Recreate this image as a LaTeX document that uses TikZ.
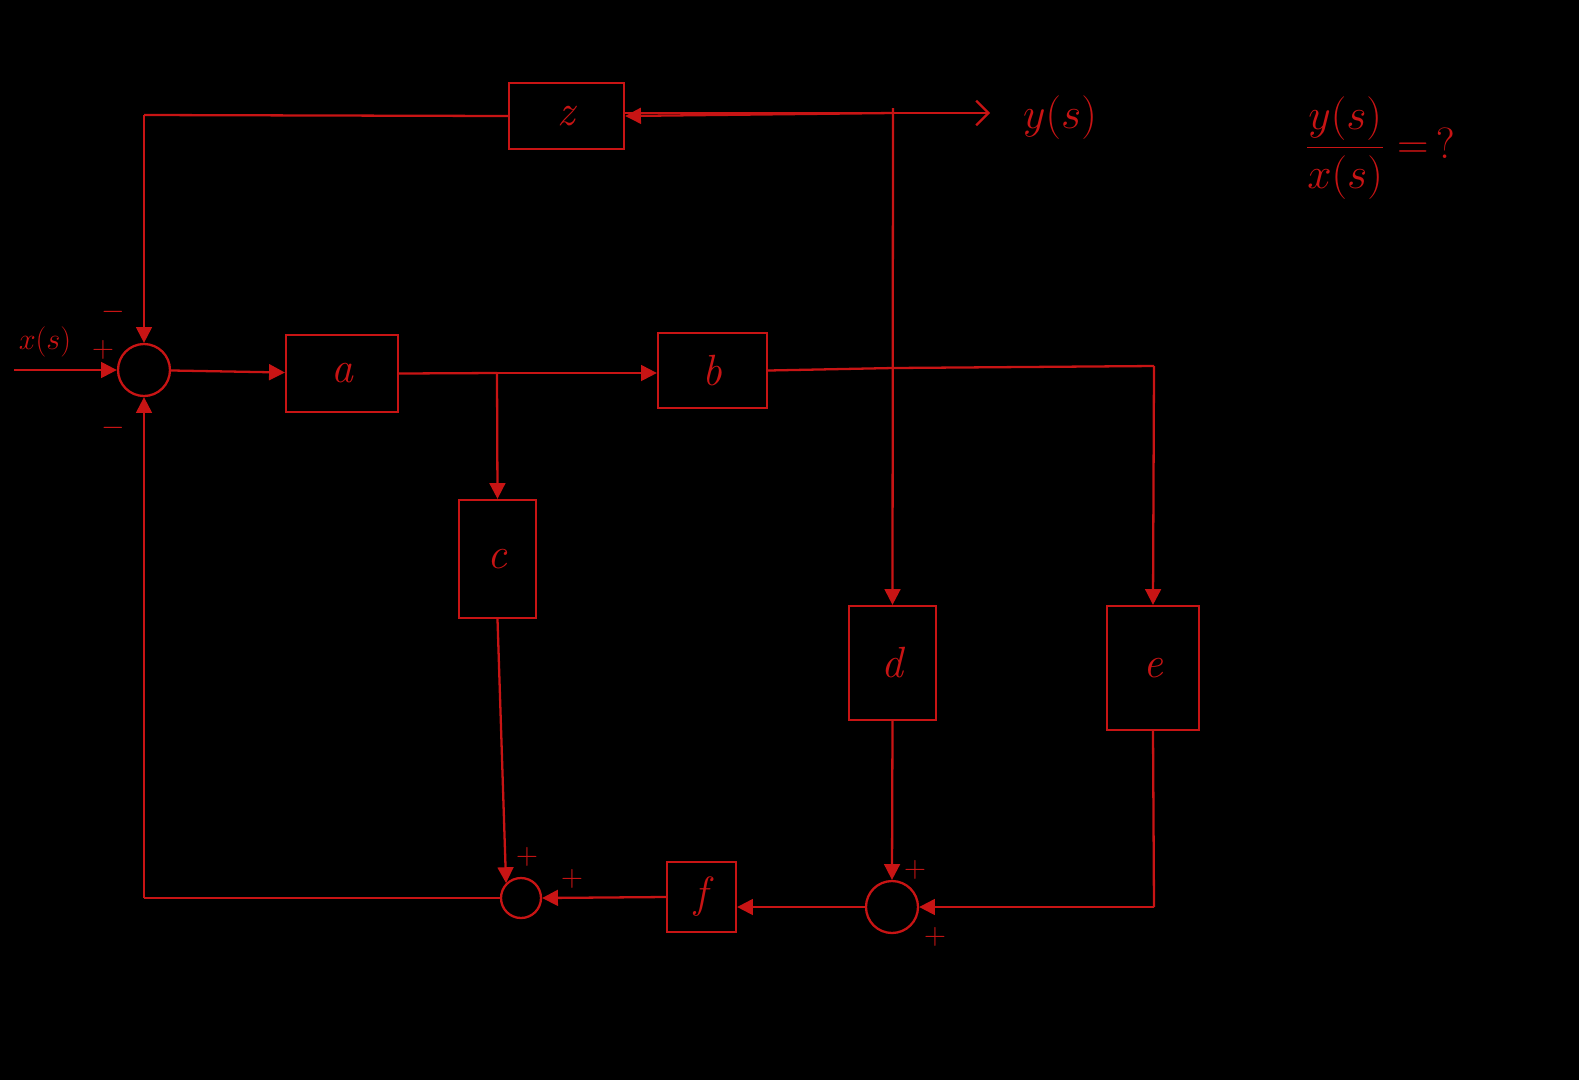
\documentclass[tikz,border=0pt]{standalone}
\usetikzlibrary{arrows.meta}
\definecolor{pen}{RGB}{200,20,20}
\begin{document}
\begin{tikzpicture}[x=0.02cm,y=-0.02cm,color=pen,line width=1.3pt,
  blk/.style={draw=pen,rectangle,inner sep=0pt,font=\Huge\itshape,text=pen},
  sumc/.style={draw=pen,circle,inner sep=0pt},
  lab/.style={text=pen,font=\LARGE},
  ar/.style={-{Triangle[length=9pt,width=9pt]}}]
\fill[black] (0,0) rectangle (1579,1080);
\useasboundingbox (0,0) rectangle (1579,1080);
\node[sumc,minimum size=1.04cm] (s1) at (144,370) {};
\node[blk,minimum width=2.24cm,minimum height=1.54cm] (a) at (342,373.5) {a};
\node[blk,minimum width=2.18cm,minimum height=1.5cm] (b) at (712.5,370.5) {b};
\node[blk,minimum width=2.3cm,minimum height=1.32cm] (z) at (566.5,116) {z};
\node[blk,minimum width=1.54cm,minimum height=2.36cm] (c) at (497.5,559) {c};
\node[blk,minimum width=1.74cm,minimum height=2.28cm] (d) at (892.5,663) {d};
\node[blk,minimum width=1.84cm,minimum height=2.48cm] (e) at (1153,668) {e};
\node[blk,minimum width=1.38cm,minimum height=1.4cm] (f) at (701.5,897) {f};
\node[sumc,minimum size=0.8cm] (s2) at (521,898) {};
\node[sumc,minimum size=1.04cm] (s3) at (892,907) {};
\coordinate (in) at (14,370);
\coordinate (yout) at (990,113);
\coordinate (ytop) at (893,108);
\coordinate (br1) at (497,373);
\coordinate (br2) at (893,368);
\coordinate (ecor) at (1154,366);
\coordinate (zc) at (144,115);
\coordinate (fc) at (144,898);
\coordinate (ec) at (1154,907);
\draw[ar] (in) -- (s1);
\draw[ar] (s1) -- (a);
\draw (a.east) -- (br1);
\draw[ar] (br1) -- (b.west|-br1);
\draw[ar] (br1) -- (c.north);
\draw (b.east) -- (br2) -- (ecor);
\draw[ar] (ecor) -- (e.north);
\draw[ar] (ytop) -- (d.north);
\draw[-{Straight Barb[length=7pt]}] (z.east|-yout) -- (yout);
\draw[ar] (yout-|ytop) -- (z.east);
\draw (z.west) -- (zc);
\draw[ar] (zc) -- (s1.north);
\draw[ar] (c.south) -- (s2.north west);
\draw (s2.west) -- (fc);
\draw[ar] (fc) -- (s1.south);
\draw[ar] (f.west) -- (s2.east);
\draw[ar] (s3.west) -- (f.east|-s3);
\draw[ar] (d.south) -- (s3.north);
\draw (e.south) -- (ec);
\draw[ar] (ec) -- (s3.east);
\node[lab] at (45,342) {$x(s)$};
\node[lab] at (103,350) {$+$};
\node[lab] at (113,312) {$-$};
\node[lab] at (113,428) {$-$};
\node[lab] at (527,857) {$+$};
\node[lab] at (572,879) {$+$};
\node[lab] at (915,870) {$+$};
\node[lab] at (935,937) {$+$};
\node[lab,font=\Huge] at (1060,118) {$y(s)$};
\node[lab,font=\Huge] at (1380,148) {$\displaystyle\frac{y(s)}{x(s)}=\,?$};
\end{tikzpicture}
\end{document}
